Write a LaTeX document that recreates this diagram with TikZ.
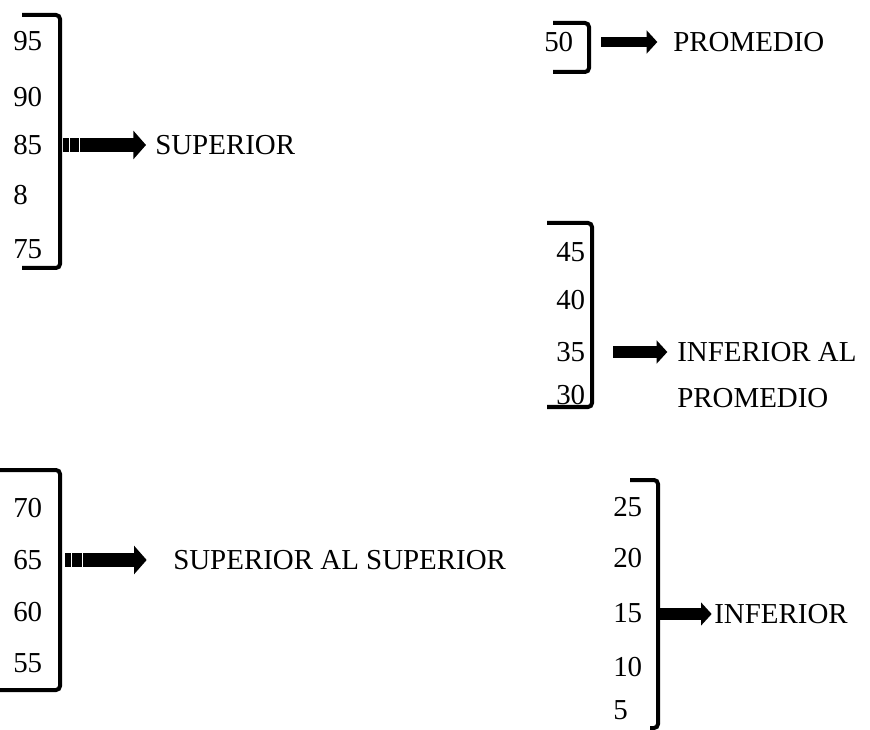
\documentclass[tikz,border=0pt]{standalone}
\usepackage{fontspec}
\setmainfont{Liberation Serif}
\usetikzlibrary{arrows.meta}

\tikzset{
  brk/.style={line width=3pt, rounded corners=3pt, line cap=butt},
  txt/.style={anchor=west, inner sep=0.75pt, font=\fontsize{21.7}{26}\selectfont},
  fatarrow/.style={line width=10.5pt, -{Triangle[length=9.5pt, width=21pt]}},
  thinarrow/.style={line width=7.5pt, -{Triangle[length=8pt, width=17pt]}},
  stripe/.style={draw=white, line width=0.35pt}
}

\begin{document}
\begin{tikzpicture}[x=0.75pt,y=0.75pt,yscale=-1]
\useasboundingbox (0,0) rectangle (870,730);

%Bracket: superior
\draw [brk] (22,15) -- (60,15) -- (60,268) -- (22,268);
% Text Node
\node (n95) at (12,41) [txt] {95};
\node (n90) at (12,97) [txt] {90};
\node (n85) at (12,145) [txt] {85};
\node (n8) at (12,195) [txt] {8};
\node (n75) at (12,249) [txt] {75};
\node (sup) at (154,145) [txt] {SUPERIOR};
%Block Arrow
\coordinate (a1) at (63,145);
\draw [fatarrow, shorten >=6pt] (a1) -- (sup.west);
\draw [stripe] ([xshift=5]a1) ++(0,-7) -- ++(0,14);
\draw [stripe] ([xshift=12]a1) ++(0,-7) -- ++(0,14);

%Bracket: promedio
\draw [brk] (553,23) -- (589,23) -- (589,72) -- (553,72);
% Text Node
\node (n50) at (543,42) [txt] {50};
\node (prom) at (672,42) [txt] {PROMEDIO};
%Block Arrow
\coordinate (a2) at (601,42);
\draw [thinarrow, shorten >=11pt] (a2) -- (prom.west);

%Bracket: inferior al promedio
\draw [brk] (547,223) -- (592,223) -- (592,407) -- (547,407);
% Text Node
\node (n45) at (555,252) [txt] {45};
\node (n40) at (555,300) [txt] {40};
\node (n35) at (555,352) [txt] {35};
\node (n30) at (555,395) [txt] {30};
\node (infal) at (676,352) [txt] {INFERIOR AL};
\node (infprom) at (676,398) [txt] {PROMEDIO};
%Block Arrow
\coordinate (a3) at (613,352);
\draw [thinarrow, line width=9pt, shorten >=6.5pt] (a3) -- (infal.west);

%Bracket: superior al superior
\draw [brk] (0,470) -- (60,470) -- (60,690) -- (0,690);
% Text Node
\node (n70) at (12,508) [txt] {70};
\node (n65) at (12,560) [txt] {65};
\node (n60) at (12,612) [txt] {60};
\node (n55) at (12,663) [txt] {55};
\node (supsup) at (172,560) [txt] {SUPERIOR AL SUPERIOR};
%Block Arrow
\coordinate (a4) at (65,560);
\draw [fatarrow, shorten >=19pt] (a4) -- (supsup.west);
\draw [stripe] ([xshift=5]a4) ++(0,-7) -- ++(0,14);
\draw [stripe] ([xshift=13]a4) ++(0,-7) -- ++(0,14);

%Bracket: inferior
\draw [brk] (630,480) -- (658,480) -- (658,728) -- (650,728);
% Text Node
\node (n25) at (612,507) [txt] {25};
\node (n20) at (612,558) [txt] {20};
\node (n15) at (612,613) [txt] {15};
\node (n10) at (612,667) [txt] {10};
\node (n5) at (612,710) [txt] {5};
\node (inf) at (713,614) [txt] {INFERIOR};
%Block Arrow
\coordinate (a5) at (659,614);
\draw [thinarrow, line width=9pt, shorten >=1pt] (a5) -- (inf.west);

\end{tikzpicture}
\end{document}
